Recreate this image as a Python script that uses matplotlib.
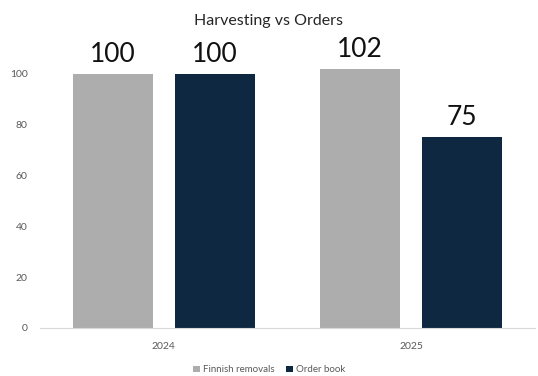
import matplotlib
matplotlib.use('Agg')
import matplotlib.pyplot as plt
import numpy as np

plt.rcParams['font.family'] = ['Lato', 'DejaVu Sans']

years = ['2024', '2025']
removals = [100, 102]
order_book = [100, 75]

grey = '#ADADAD'
navy = '#0E2841'

fig = plt.figure(figsize=(5.38, 3.76), dpi=100)
ax = fig.add_axes([0.0743, 0.1277, 0.9197, 0.811])

x = np.arange(len(years))
w = 0.324
off = 0.206
b1 = ax.bar(x - off, removals, w, color=grey, label='Finnish removals')
b2 = ax.bar(x + off, order_book, w, color=navy, label='Order book')

for bars in (b1, b2):
    for b in bars:
        ax.annotate(f'{b.get_height():.0f}', (b.get_x() + b.get_width() / 2, b.get_height()),
                    xytext=(0, 5), textcoords='offset points', ha='center', va='bottom',
                    fontsize=19, color='#111111')

ax.set_xlim(-0.5, 1.5)
ax.set_ylim(0, 120)
ax.set_yticks([0, 20, 40, 60, 80, 100])
ax.set_xticks(x)
ax.set_xticklabels(years)
ax.tick_params(axis='both', length=0, colors='#595959', labelsize=7.5)
ax.tick_params(axis='x', pad=10)
ax.tick_params(axis='y', pad=9)
for s in ['top', 'right', 'left']:
    ax.spines[s].set_visible(False)
ax.spines['bottom'].set_color('#D9D9D9')

fig.text(0.5, 0.945, 'Harvesting vs Orders', ha='center', va='center', fontsize=11.5, color='#262626')
fig.legend(loc='center', bbox_to_anchor=(0.5, 0.016), ncol=2, frameon=False, fontsize=7,
           handlelength=0.7, handleheight=0.7, handletextpad=0.3, columnspacing=1.2,
           labelcolor='#595959')

fig.savefig('out.png', dpi=100)
